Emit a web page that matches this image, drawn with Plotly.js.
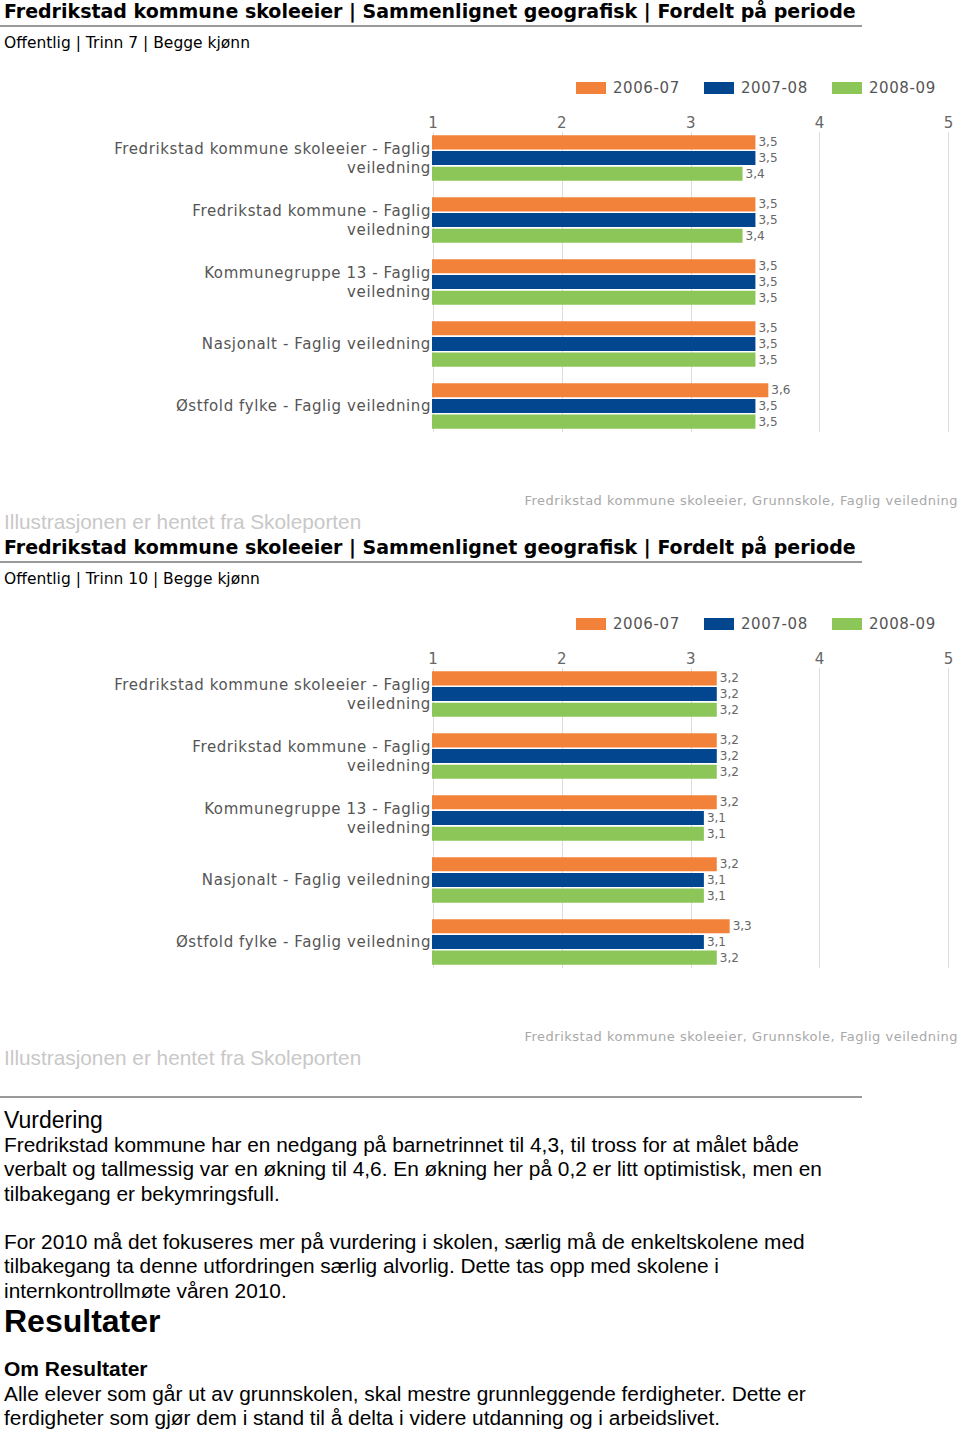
<!DOCTYPE html>
<html>
<head>
<meta charset="utf-8">
<script src="https://cdn.plot.ly/plotly-3.0.1.min.js"></script>
<style>
  html, body { margin:0; padding:0; background:#fff; }
  body { width:960px; height:1429px; position:relative; overflow:hidden; }
  .abs { position:absolute; white-space:nowrap; }
  .htitle { font-family:"DejaVu Sans", Verdana, sans-serif; font-weight:bold; font-size:19px; line-height:22px; color:#000; left:4px; }
  .hrule { left:0; width:862px; height:2px; background:#9a9a9a; }
  .hsub { font-family:"DejaVu Sans", Verdana, sans-serif; font-size:15.5px; line-height:18px; color:#000; left:4px; }
  .src { font-family:"DejaVu Sans", Verdana, sans-serif; font-size:13px; letter-spacing:0.5px; line-height:16px; color:#a8a8a8; right:2px; }
  .illu { font-family:"Liberation Sans", Arial, sans-serif; font-size:20.8px; line-height:24px; color:#c8c8c8; left:4px; }
  .chart { position:absolute; left:0; width:960px; height:460px; }
  .body { font-family:"Liberation Sans", Arial, sans-serif; color:#000; left:4px; }
  .chart g.ytick text, .chart g.xtick text, .chart g.annotation text { letter-spacing:0.6px; }
</style>
</head>
<body>
<div class="abs htitle" style="top:0px;">Fredrikstad kommune skoleeier | Sammenlignet geografisk | Fordelt på periode</div>
<div class="abs hrule" style="top:25px;"></div>
<div class="abs hsub" style="top:34px;">Offentlig | Trinn 7 | Begge kjønn</div>
<div id="chart7" class="chart" style="top:60px;"></div>
<div class="abs src" style="top:493px;">Fredrikstad kommune skoleeier, Grunnskole, Faglig veiledning</div>
<div class="abs illu" style="top:510px;">Illustrasjonen er hentet fra Skoleporten</div>

<div class="abs htitle" style="top:536px;">Fredrikstad kommune skoleeier | Sammenlignet geografisk | Fordelt på periode</div>
<div class="abs hrule" style="top:561px;"></div>
<div class="abs hsub" style="top:570px;">Offentlig | Trinn 10 | Begge kjønn</div>
<div id="chart10" class="chart" style="top:596px;"></div>
<div class="abs src" style="top:1029px;">Fredrikstad kommune skoleeier, Grunnskole, Faglig veiledning</div>
<div class="abs illu" style="top:1046px;">Illustrasjonen er hentet fra Skoleporten</div>

<div class="abs hrule" style="top:1096px;"></div>
<div class="abs body" style="top:1107px; font-size:23px; line-height:26px;">Vurdering</div>
<div class="abs body" style="top:1133px; font-size:20.85px; line-height:24.4px;">Fredrikstad kommune har en nedgang på barnetrinnet til 4,3, til tross for at målet både<br>verbalt og tallmessig var en økning til 4,6. En økning her på 0,2 er litt optimistisk, men en<br>tilbakegang er bekymringsfull.</div>
<div class="abs body" style="top:1230px; font-size:20.85px; line-height:24.4px;">For 2010 må det fokuseres mer på vurdering i skolen, særlig må de enkeltskolene med<br>tilbakegang ta denne utfordringen særlig alvorlig. Dette tas opp med skolene i<br>internkontrollmøte våren 2010.</div>
<div class="abs body" style="top:1303px; font-size:32px; line-height:36px; font-weight:bold;">Resultater</div>
<div class="abs body" style="top:1357px; font-size:21px; line-height:24px; font-weight:bold;">Om Resultater</div>
<div class="abs body" style="top:1382px; font-size:20.85px; line-height:24.4px;">Alle elever som går ut av grunnskolen, skal mestre grunnleggende ferdigheter. Dette er<br>ferdigheter som gjør dem i stand til å delta i videre utdanning og i arbeidslivet.</div>

<script>
// ---- Data ----
const categories = [
  "Fredrikstad kommune skoleeier - Faglig<br>veiledning",
  "Fredrikstad kommune - Faglig<br>veiledning",
  "Kommunegruppe 13 - Faglig<br>veiledning",
  "Nasjonalt - Faglig veiledning",
  "Østfold fylke - Faglig veiledning"
];
const periods = ["2006-07", "2007-08", "2008-09"];
const axisTicks = [1, 2, 3, 4, 5];

// Trinn 7
const trinn7_2006_07 = [3.5, 3.5, 3.5, 3.5, 3.6];
const trinn7_2007_08 = [3.5, 3.5, 3.5, 3.5, 3.5];
const trinn7_2008_09 = [3.4, 3.4, 3.5, 3.5, 3.5];

// Trinn 10
const trinn10_2006_07 = [3.2, 3.2, 3.2, 3.2, 3.3];
const trinn10_2007_08 = [3.2, 3.2, 3.1, 3.1, 3.1];
const trinn10_2008_09 = [3.2, 3.2, 3.1, 3.1, 3.2];

// ---- Styles / geometry ----
const colors = ["#F2823A", "#02468F", "#8CC658"];
const chartFont = "DejaVu Sans, Verdana, sans-serif";
const W = 960, H = 460;
const M = { l: 432, r: 10, t: 72, b: 88 };
const plotW = W - M.l - M.r, plotH = H - M.t - M.b;
const xp = px => (px - M.l) / plotW;          // pixel -> paper x
const yp = py => (M.t + plotH - py) / plotH;  // pixel -> paper y
// legend key geometry (pixels inside chart div)
const legendSwatchX = [576, 704, 832];
const legendSwatchW = 30, legendSwatchTop = 22, legendSwatchH = 12, legendTextGap = 7;

function drawChart(divId, seriesList) {
  const traces = seriesList.map((vals, i) => ({
    type: "bar",
    orientation: "h",
    name: periods[i],
    y: categories,
    x: vals,
    marker: { color: colors[i], line: { width: 0 } },
    texttemplate: "%{x:.1f}",
    textposition: "outside",
    textfont: { family: chartFont, size: 12, color: "#666" },
    cliponaxis: false,
    hoverinfo: "skip"
  }));
  const shapes = periods.map((p, i) => ({
    type: "rect", xref: "paper", yref: "paper",
    x0: xp(legendSwatchX[i]), x1: xp(legendSwatchX[i] + legendSwatchW),
    y0: yp(legendSwatchTop + legendSwatchH), y1: yp(legendSwatchTop),
    fillcolor: colors[i], line: { width: 0 }
  }));
  const annotations = periods.map((p, i) => ({
    text: p, xref: "paper", yref: "paper",
    x: xp(legendSwatchX[i] + legendSwatchW + legendTextGap), xanchor: "left",
    y: yp(legendSwatchTop + legendSwatchH / 2), yanchor: "middle",
    showarrow: false,
    font: { family: chartFont, size: 15, color: "#555" }
  }));
  const layout = {
    width: W,
    height: H,
    margin: { l: M.l, r: M.r, t: M.t, b: M.b, pad: 0 },
    paper_bgcolor: "#fff",
    plot_bgcolor: "#fff",
    separators: ", ",
    barmode: "group",
    bargap: 0.24,
    bargroupgap: 0.1,
    font: { family: chartFont, size: 15, color: "#555" },
    showlegend: false,
    shapes: shapes,
    annotations: annotations,
    xaxis: {
      range: [0.99, 5.01],
      side: "top",
      tickvals: axisTicks,
      ticktext: axisTicks.map(String),
      showgrid: true,
      gridcolor: "#dcdcdc",
      gridwidth: 1,
      zeroline: false,
      showline: false,
      ticks: "",
      tickfont: { family: chartFont, size: 15, color: "#666" },
      fixedrange: true
    },
    yaxis: {
      type: "category",
      range: [4.42, -0.42],
      showgrid: false,
      zeroline: false,
      showline: false,
      ticks: "",
      tickfont: { family: chartFont, size: 15, color: "#555" },
      fixedrange: true
    }
  };
  Plotly.newPlot(divId, traces, layout, { staticPlot: true, displayModeBar: false });
}

drawChart("chart7", [trinn7_2006_07, trinn7_2007_08, trinn7_2008_09]);
drawChart("chart10", [trinn10_2006_07, trinn10_2007_08, trinn10_2008_09]);
</script>
</body>
</html>
